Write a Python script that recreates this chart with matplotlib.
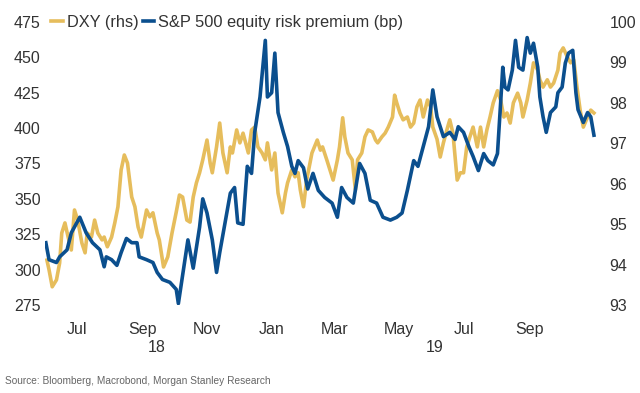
import matplotlib
matplotlib.use("Agg")
import matplotlib.pyplot as plt
import matplotlib.dates as mdates
import matplotlib.transforms as mtransforms
import pandas as pd

plt.rcParams['font.family'] = ['Liberation Sans', 'DejaVu Sans']

# S&P 500 equity risk premium (bp), left axis
erp_dates = ['2018-06-02', '2018-06-05', '2018-06-12', '2018-06-15', '2018-06-22', '2018-06-26',
             '2018-07-04', '2018-07-10', '2018-07-16', '2018-07-23', '2018-07-27', '2018-07-29',
             '2018-08-03', '2018-08-08', '2018-08-12', '2018-08-17', '2018-08-22', '2018-08-27',
             '2018-08-29', '2018-09-05', '2018-09-11', '2018-09-15', '2018-09-20', '2018-09-27',
             '2018-10-03', '2018-10-05', '2018-10-14', '2018-10-19', '2018-10-25', '2018-10-28',
             '2018-11-01', '2018-11-06', '2018-11-10', '2018-11-13', '2018-11-18', '2018-11-23',
             '2018-11-27', '2018-11-30', '2018-12-05', '2018-12-09', '2018-12-13', '2018-12-16',
             '2018-12-21', '2018-12-26', '2018-12-28', '2019-01-01', '2019-01-04', '2019-01-07',
             '2019-01-12', '2019-01-16', '2019-01-20', '2019-01-23', '2019-01-26', '2019-01-31',
             '2019-02-04', '2019-02-09', '2019-02-14', '2019-02-20', '2019-02-27', '2019-03-04',
             '2019-03-08', '2019-03-13', '2019-03-19', '2019-03-25', '2019-03-30', '2019-04-04',
             '2019-04-10', '2019-04-16', '2019-04-23', '2019-04-29', '2019-05-04', '2019-05-09',
             '2019-05-15', '2019-05-19', '2019-05-24', '2019-05-29', '2019-06-02', '2019-06-06',
             '2019-06-12', '2019-06-18', '2019-06-23', '2019-06-26', '2019-07-01', '2019-07-06',
             '2019-07-10', '2019-07-15', '2019-07-20', '2019-07-24', '2019-07-29', '2019-08-02',
             '2019-08-05', '2019-08-07', '2019-08-09', '2019-08-12', '2019-08-16', '2019-08-19',
             '2019-08-22', '2019-08-26', '2019-08-30', '2019-09-02', '2019-09-05', '2019-09-09',
             '2019-09-11', '2019-09-14', '2019-09-17', '2019-09-21', '2019-09-26', '2019-09-28',
             '2019-10-02', '2019-10-05', '2019-10-08', '2019-10-12', '2019-10-15', '2019-10-17',
             '2019-10-22', '2019-10-26', '2019-10-29', '2019-11-01']
erp_vals = [319, 307, 305, 309, 314, 326,
            337, 326, 319, 314, 302, 309,
            307, 303, 312, 322, 319, 319,
            309, 307, 305, 298, 293, 291,
            286, 276, 321, 301, 330, 350,
            340, 321, 298, 312, 333, 354,
            358, 333, 332, 373, 368, 397,
            422, 462, 422, 425, 453, 411,
            397, 387, 373, 368, 377, 372,
            357, 368, 356, 351, 347, 337,
            358, 351, 347, 375, 368, 349,
            347, 337, 335, 337, 340, 356,
            377, 373, 387, 401, 427, 408,
            394, 397, 392, 401, 397, 387,
            380, 370, 382, 377, 374, 382,
            418, 443, 429, 427, 441, 462,
            443, 441, 464, 453, 460, 443,
            422, 408, 397, 411, 415, 425,
            429, 446, 453, 455, 425, 413,
            404, 411, 408, 395]

# DXY, right axis
dxy_dates = ['2018-06-03', '2018-06-05', '2018-06-08', '2018-06-12', '2018-06-15', '2018-06-17',
             '2018-06-20', '2018-06-23', '2018-06-26', '2018-06-29', '2018-07-02', '2018-07-06',
             '2018-07-09', '2018-07-11', '2018-07-15', '2018-07-18', '2018-07-21', '2018-07-25',
             '2018-07-27', '2018-07-30', '2018-08-03', '2018-08-06', '2018-08-09', '2018-08-12',
             '2018-08-15', '2018-08-18', '2018-08-22', '2018-08-25', '2018-08-28', '2018-08-31',
             '2018-09-05', '2018-09-08', '2018-09-11', '2018-09-15', '2018-09-17', '2018-09-21',
             '2018-09-25', '2018-09-29', '2018-10-03', '2018-10-06', '2018-10-09', '2018-10-13',
             '2018-10-16', '2018-10-19', '2018-10-22', '2018-10-25', '2018-10-28', '2018-11-01',
             '2018-11-04', '2018-11-06', '2018-11-10', '2018-11-13', '2018-11-16', '2018-11-20',
             '2018-11-23', '2018-11-25', '2018-11-29', '2018-12-02', '2018-12-05', '2018-12-10',
             '2018-12-13', '2018-12-16', '2018-12-19', '2018-12-23', '2018-12-26', '2018-12-28',
             '2019-01-01', '2019-01-04', '2019-01-07', '2019-01-11', '2019-01-14', '2019-01-16',
             '2019-01-20', '2019-01-23', '2019-01-26', '2019-01-28', '2019-01-31', '2019-02-03',
             '2019-02-08', '2019-02-13', '2019-02-16', '2019-02-18', '2019-02-22', '2019-02-25',
             '2019-02-28', '2019-03-04', '2019-03-06', '2019-03-09', '2019-03-11', '2019-03-14',
             '2019-03-18', '2019-03-21', '2019-03-23', '2019-03-27', '2019-03-30', '2019-04-02',
             '2019-04-06', '2019-04-09', '2019-04-11', '2019-04-15', '2019-04-18', '2019-04-21',
             '2019-04-25', '2019-04-27', '2019-04-29', '2019-05-02', '2019-05-05', '2019-05-09',
             '2019-05-12', '2019-05-15', '2019-05-18', '2019-05-21', '2019-05-24', '2019-05-28',
             '2019-05-31', '2019-06-02', '2019-06-06', '2019-06-09', '2019-06-12', '2019-06-16',
             '2019-06-18', '2019-06-21', '2019-06-25', '2019-06-28', '2019-07-01', '2019-07-04',
             '2019-07-07', '2019-07-10', '2019-07-14', '2019-07-17', '2019-07-20', '2019-07-23',
             '2019-07-26', '2019-07-29', '2019-08-02', '2019-08-05', '2019-08-08', '2019-08-11',
             '2019-08-14', '2019-08-17', '2019-08-21', '2019-08-24', '2019-08-26', '2019-08-30',
             '2019-09-02', '2019-09-05', '2019-09-09', '2019-09-11', '2019-09-14', '2019-09-18',
             '2019-09-21', '2019-09-24', '2019-09-28', '2019-09-30', '2019-10-03', '2019-10-07',
             '2019-10-10', '2019-10-13', '2019-10-16', '2019-10-19', '2019-10-22', '2019-10-26',
             '2019-10-29', '2019-11-01']
dxy_vals = [94.11, 93.87, 93.45, 93.62, 94.04, 94.78,
            95.03, 94.68, 94.36, 95.35, 95.10, 94.53,
            94.29, 94.78, 94.68, 95.10, 94.78, 94.61,
            94.68, 94.44, 94.68, 95.03, 95.43, 96.34,
            96.71, 96.51, 95.67, 95.43, 94.93, 94.68,
            95.35, 95.18, 95.28, 94.78, 94.61, 93.94,
            94.19, 94.78, 95.30, 95.72, 95.67, 95.10,
            95.05, 95.67, 96.02, 96.27, 96.59, 97.08,
            96.51, 96.27, 96.91, 97.50, 96.76, 96.27,
            96.91, 96.76, 97.33, 97.01, 97.25, 96.76,
            97.33, 97.40, 96.91, 96.76, 96.59, 97.01,
            96.34, 96.76, 95.77, 95.28, 95.77, 96.02,
            96.34, 96.17, 96.27, 95.85, 95.43, 96.09,
            96.76, 97.08, 96.83, 96.91, 96.59, 96.34,
            96.09, 96.59, 96.91, 97.63, 97.16, 96.76,
            96.59, 95.85, 96.59, 96.76, 97.16, 97.33,
            97.28, 97.08, 97.01, 97.16, 97.25, 97.40,
            97.65, 98.19, 98.00, 97.75, 97.58, 97.65,
            97.40, 97.50, 97.90, 98.07, 97.65, 98.07,
            97.90, 97.40, 97.10, 96.66, 97.01, 97.40,
            97.58, 97.25, 96.09, 96.27, 96.27, 96.91,
            97.16, 97.40, 96.91, 97.40, 96.91, 97.33,
            97.65, 98.00, 98.30, 98.07, 97.65, 97.75,
            97.50, 98.00, 98.24, 98.00, 97.65, 98.07,
            98.49, 98.99, 98.81, 98.57, 98.39, 98.57,
            98.39, 98.49, 98.81, 99.23, 99.36, 99.13,
            98.99, 99.06, 98.39, 97.82, 97.40, 97.65,
            97.82, 97.75]

month_ticks = ['2018-07-01', '2018-09-01', '2018-11-01', '2019-01-01',
               '2019-03-01', '2019-05-01', '2019-07-01', '2019-09-01']
erp_ticks = [275, 300, 325, 350, 375, 400, 425, 450, 475]
dxy_ticks = [93, 94, 95, 96, 97, 98, 99, 100]

gold = '#E6BD5C'
navy = '#0B4F8E'
txt = '#333333'

fig = plt.figure(figsize=(6.4, 3.93), dpi=100)
ax = fig.add_axes([0.070, 0.224, 0.863, 0.720])
ax2 = ax.twinx()

ax2.plot(pd.to_datetime(dxy_dates), dxy_vals, color=gold, lw=2.6, label='DXY (rhs)')
ax.plot(pd.to_datetime(erp_dates), erp_vals, color=navy, lw=2.6,
        label='S&P 500 equity risk premium (bp)')
ax.set_zorder(ax2.get_zorder() + 1)
ax.patch.set_visible(False)

ax.set_ylim(275, 475)
ax2.set_ylim(93, 100)
ax.set_yticks(erp_ticks)
ax2.set_yticks(dxy_ticks)
ax.set_xlim(pd.Timestamp('2018-06-01'), pd.Timestamp('2019-11-04'))

ax.set_xticks(pd.to_datetime(month_ticks))
ax.xaxis.set_major_formatter(mdates.DateFormatter('%b'))

for a in (ax, ax2):
    for s in a.spines.values():
        s.set_visible(False)
    a.tick_params(length=0, labelsize=11.5, colors=txt)
ax.tick_params(axis='y', pad=3)
ax2.tick_params(axis='y', pad=9)
ax.tick_params(axis='x', pad=12)

trans = mtransforms.blended_transform_factory(ax.transData, ax.transAxes)
ax.text(pd.Timestamp('2018-09-15'), -0.152, '18', transform=trans, ha='center', va='center',
        fontsize=11.5, color=txt)
ax.text(pd.Timestamp('2019-06-04'), -0.152, '19', transform=trans, ha='center', va='center',
        fontsize=11.5, color=txt)

h1, l1 = ax2.get_legend_handles_labels()
h2, l2 = ax.get_legend_handles_labels()
ax.legend(h1 + h2, l1 + l2, loc='center left', bbox_to_anchor=(0.012, 1.0), ncol=2,
          frameon=False, fontsize=11.8, handlelength=0.7, handletextpad=0.25,
          columnspacing=0.25, borderaxespad=0, borderpad=0, labelcolor=txt)

fig.text(0.008, 0.022, 'Source: Bloomberg, Macrobond, Morgan Stanley Research',
         fontsize=7.3, color='#666666')

fig.savefig('out.png', dpi=100)
